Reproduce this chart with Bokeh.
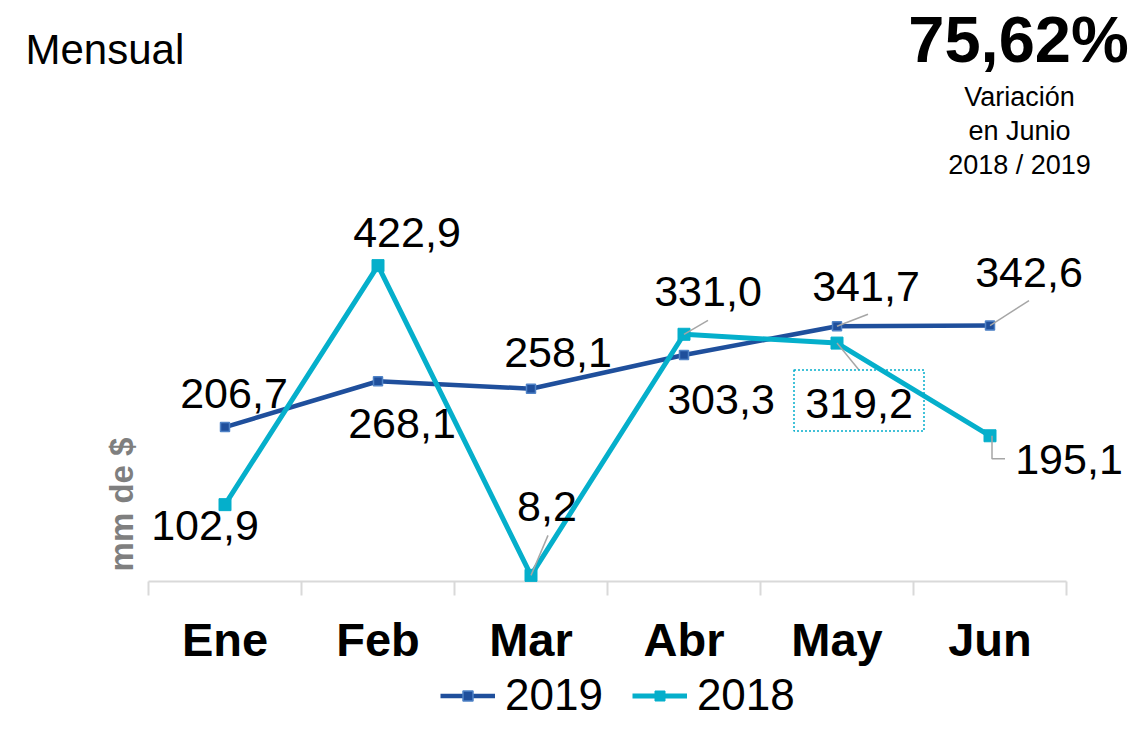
import math
from bokeh.plotting import figure
from bokeh.models import Range1d, Label, Legend, LegendItem, ColumnDataSource
from bokeh.core.properties import value
from bokeh.embed import file_html
from bokeh.resources import INLINE

# ---------------- data ----------------
months = ["Ene", "Feb", "Mar", "Abr", "May", "Jun"]
v2019 = [206.7, 268.1, 258.1, 303.3, 341.7, 342.6]
v2018 = [102.9, 422.9, 8.2, 331.0, 319.2, 195.1]
series_names = ["2019", "2018"]
title_text = "Mensual"
kpi_value = "75,62%"
kpi_lines = ["Variación", "en Junio", "2018 / 2019"]
y_label = "mm de $"

# ---------------- styles / geometry ----------------
FONT = "Liberation Sans"
C19 = "#1F4F9C"
C19_EDGE = "#4F82C6"
C18 = "#05AFCB"
GRAY_AX = "#D9D9D9"
LEADER = "#A6A6A6"

W, H = 1131, 720
AX_LEFT, AX_RIGHT = 148, 1066      # px of category axis ends
ZERO_Y = 581                        # px of y = 0
PX_Y = 0.7469                       # px per unit
n = len(months)
PX_X = (AX_RIGHT - AX_LEFT) / n

xs = [i + 1 for i in range(n)]
bounds = [x - 0.5 for x in xs] + [xs[-1] + 0.5]

x_start = bounds[0] - AX_LEFT / PX_X
x_end = bounds[-1] + (W - AX_RIGHT) / PX_X
y_start = -(H - ZERO_Y) / PX_Y
y_end = ZERO_Y / PX_Y


def dx(px):
    return bounds[0] + (px - AX_LEFT) / PX_X


def dy(py):
    return (ZERO_Y - py) / PX_Y


p = figure(width=W, height=H, x_range=Range1d(x_start, x_end), y_range=Range1d(y_start, y_end),
           output_backend="svg", toolbar_location=None,
           x_axis_location=None, y_axis_location=None,
           min_border=0, outline_line_color=None,
           background_fill_color="white", border_fill_color="white")
p.grid.visible = False

# category axis line, boundary ticks and category labels
p.segment(x0=[bounds[0]], y0=[0], x1=[bounds[-1]], y1=[0], line_color=GRAY_AX, line_width=2)
p.segment(x0=bounds, y0=[0] * len(bounds), x1=bounds, y1=[-14 / PX_Y] * len(bounds),
          line_color=GRAY_AX, line_width=2)
p.text(x=xs, y=[0] * n, text=months, y_offset=58,
       text_font=value(FONT), text_font_size="47px", text_font_style="bold",
       text_color="black", text_align="center", text_baseline="middle")

# series
l19 = p.line(xs, v2019, line_color=C19, line_width=4.5)
s19 = p.scatter(xs, v2019, marker="square", size=9, fill_color=C19, line_color=C19_EDGE, line_width=1.5)
l18 = p.line(xs, v2018, line_color=C18, line_width=5)
s18 = p.scatter(xs, v2018, marker="square", size=12, fill_color=C18, line_color=C18)


def fmt(v):
    return f"{v:.1f}".replace(".", ",")


# label offsets (screen px) from each point
off19 = [(9, -34), (24, 42), (27, -36), (37, 45), (29, -40), (39, -53)]
off18 = [(-20, 21), (29, -33), (16, -69), (24, -43), (22, 60), (79, 24)]

lab = ColumnDataSource(dict(
    x=xs + xs,
    y=v2019 + v2018,
    t=[fmt(v) for v in v2019 + v2018],
    xo=[o[0] for o in off19 + off18],
    yo=[o[1] for o in off19 + off18],
))
p.text(x="x", y="y", text="t", x_offset="xo", y_offset="yo", source=lab,
       text_font=value(FONT), text_font_size="43px", text_color="black",
       text_align="center", text_baseline="middle")

# leader lines (screen-px paths relative to points)
leaders = [
    (xs[4], v2019[4], [(0, 0), (31, -12)]),
    (xs[5], v2019[5], [(0, 0), (39, -25)]),
    (xs[2], v2018[2], [(0, 0), (17, -40)]),
    (xs[3], v2018[3], [(0, 0), (24, -14)]),
    (xs[4], v2018[4], [(0, 0), (22, 27)]),
    (xs[5], v2018[5], [(2, 0), (2, 23), (15, 23)]),
]
p.multi_line(xs=[[x + a / PX_X for a, b in path] for x, y, path in leaders],
             ys=[[y - b / PX_Y for a, b in path] for x, y, path in leaders],
             line_color=LEADER, line_width=1.5)

# dotted box around May 2018 label
p.rect(x=[xs[4] + 22 / PX_X], y=[v2018[4] - 57.5 / PX_Y], width=130, height=61,
       width_units="screen", height_units="screen", fill_color=None,
       line_color=C18, line_dash="2 2", line_width=1.5)

# texts
p.add_layout(Label(x=dx(25), y=dy(49), text=title_text, text_font=FONT,
                   text_font_size="42px", text_color="black",
                   text_align="left", text_baseline="middle"))
p.add_layout(Label(x=dx(1018), y=dy(39), text=kpi_value, text_font=FONT,
                   text_font_size="65px", text_font_style="bold", text_color="black",
                   text_align="center", text_baseline="middle"))
for line, mid in zip(kpi_lines, [96.5, 130.5, 164.5]):
    p.add_layout(Label(x=dx(1019), y=dy(mid), text=line, text_font=FONT,
                       text_font_size="27px", text_color="black",
                       text_align="center", text_baseline="middle"))
p.add_layout(Label(x=dx(121), y=dy(504), text=y_label, text_font=FONT,
                   text_font_size="33px", text_font_style="bold", text_color="#7F7F7F",
                   angle=math.pi / 2, text_align="center", text_baseline="middle"))

legend = Legend(items=[LegendItem(label=series_names[0], renderers=[l19, s19]),
                       LegendItem(label=series_names[1], renderers=[l18, s18])],
                location=(440, 0), orientation="horizontal",
                label_text_font=FONT, label_text_font_size="44px", label_text_color="black",
                glyph_width=55, glyph_height=25, label_height=25, label_standoff=10, spacing=29,
                padding=0, margin=0, border_line_color=None, background_fill_alpha=0)
p.add_layout(legend)

open("out.html", "w").write(file_html(p, INLINE))
